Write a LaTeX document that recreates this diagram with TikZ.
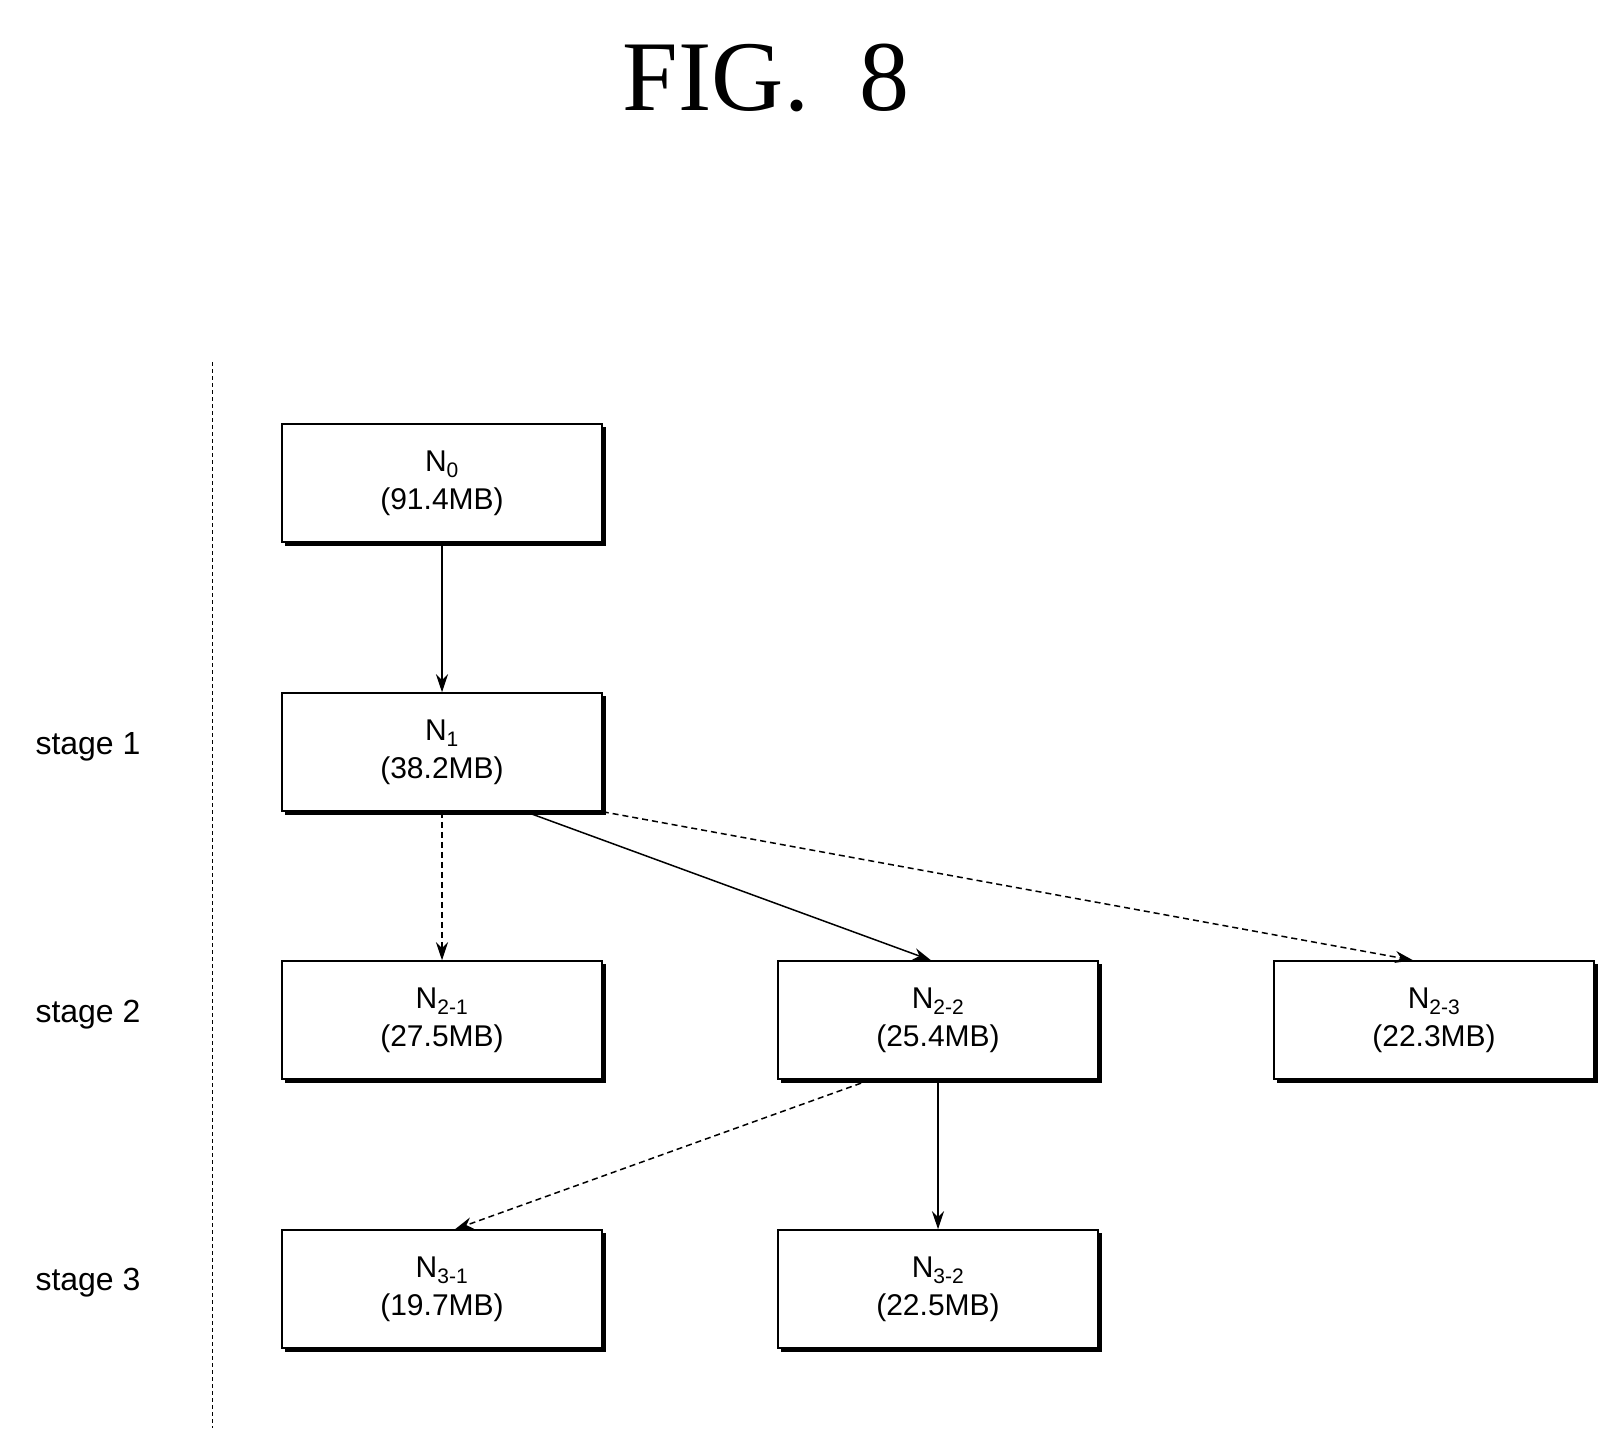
\documentclass[tikz,border=0pt]{standalone}
\usepackage{fontspec}
\setmainfont{Liberation Serif}
\newfontfamily\boxfont{Liberation Sans}
\usetikzlibrary{arrows.meta,calc}
\newcommand{\sbs}[1]{\textsubscript{#1}}
\begin{document}
\begin{tikzpicture}[x=1pt,y=-1pt,
 bx/.style={draw,line width=1.5pt,minimum width=320pt,minimum height=118pt,align=center,font=\boxfont\fontsize{30}{38}\selectfont,inner sep=0pt},
 ar/.style={line width=1.5pt,-{Stealth[length=18pt,width=12pt]}},
 da/.style={ar,dash pattern=on 6pt off 4pt},
 st/.style={font=\boxfont\fontsize{32}{36}\selectfont}]
\useasboundingbox (0,0) rectangle (1619,1442);
\node[font=\fontsize{100}{110}\selectfont] (t) at (766,78) {FIG.\ \ 8};
\draw[dash pattern=on 4pt off 3pt,line width=1pt] (212,362) coordinate (d1) -- (212,1428) coordinate (d2);
\node[st] (s1) at (88,747) {stage 1};
\node[st] (s2) at (88,1015) {stage 2};
\node[st] (s3) at (88,1283) {stage 3};
\node[bx] (n0) at (442,483) {N\sbs{0}\\(91.4MB)};
\node[bx] (n1) at (442,752) {N\sbs{1}\\(38.2MB)};
\node[bx] (n21) at (442,1020) {N\sbs{2-1}\\(27.5MB)};
\node[bx] (n22) at (938,1020) {N\sbs{2-2}\\(25.4MB)};
\node[bx] (n23) at (1434,1020) {N\sbs{2-3}\\(22.3MB)};
\node[bx] (n31) at (442,1289) {N\sbs{3-1}\\(19.7MB)};
\node[bx] (n32) at (938,1289) {N\sbs{3-2}\\(22.5MB)};
\foreach \n in {n0,n1,n21,n22,n23,n31,n32}{
 \draw[line width=3pt] ($(\n.south west)+(4,2)$) -- ($(\n.south east)+(2,2)$) -- ($(\n.north east)+(2,4)$);}
\draw[ar] (n0) -- (n1);
\draw[da] (n1) -- (n21);
\draw[ar] ($(n1.south west)!0.76!(n1.south east)$) -- ($(n22.north)+(-7,0)$);
\draw[da] (n1.south east) -- ($(n23.north)+(-21,0)$);
\draw[da] ($(n22.south west)!0.29!(n22.south east)$) -- ($(n31.north)+(13,0)$);
\draw[ar] (n22) -- (n32);
\end{tikzpicture}
\end{document}
